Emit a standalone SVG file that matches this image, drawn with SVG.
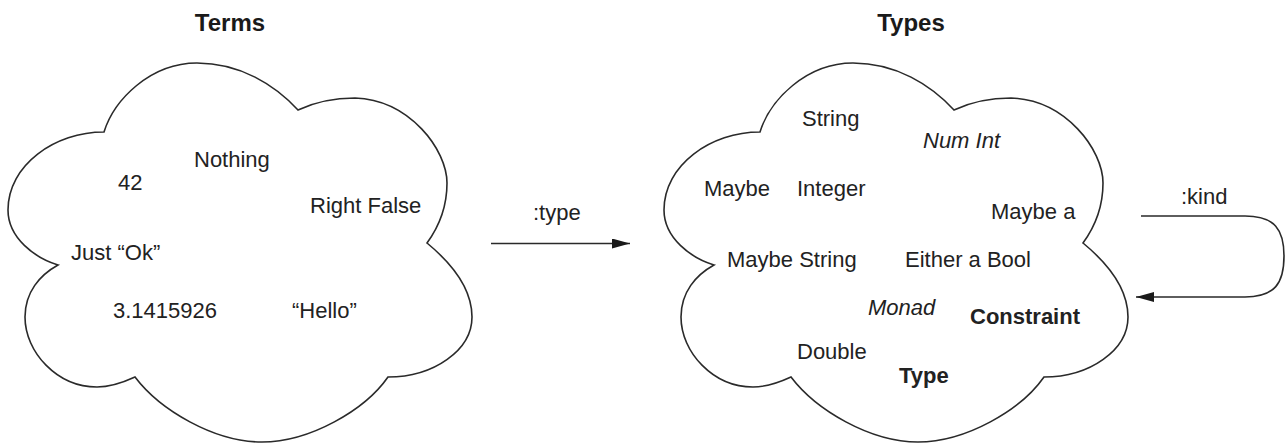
<svg xmlns="http://www.w3.org/2000/svg" width="1286" height="444" viewBox="0 0 1286 444">
  <style>
    .cloud { fill: #ffffff; stroke: #2a2a2a; stroke-width: 1.6; stroke-linejoin: miter; }
    .label { font-family: "Liberation Sans", Arial, sans-serif; font-size: 22px; fill: #222222; }
    .title { font-family: "Liberation Sans", Arial, sans-serif; font-size: 24px; font-weight: bold; fill: #1a1a1a; text-anchor: middle; }
    .it { font-style: italic; }
    .bd { font-weight: bold; }
    .edge { fill: none; stroke: #2a2a2a; stroke-width: 1.6; }
  </style>
  <defs>
    <!-- six-lobed cloud outline, drawn once and placed per node -->
    <path id="cloud-shape" d="M104,132 C114,100 150,63 197,63 C240,63 275,85 298,110 C315,102 335,98 355,98 C410,100 447,150 447,183 C447,210 438,228 427,243 C450,262 472,288 472,317 C472,350 434,377 388,377 C365,410 310,442 262,442 C214,442 160,410 135,377 C122,383 110,387 97,387 C57,387 25,352 25,317 C25,292 40,275 58,265 C35,258 8,238 8,210 C8,165 55,132 104,132 Z"/>
    <marker id="arrow" viewBox="0 0 18 10" refX="18" refY="5" markerWidth="18" markerHeight="10" markerUnits="userSpaceOnUse" orient="auto">
      <path d="M0,0 L18,5 L0,10 Z" fill="#1a1a1a"/>
    </marker>
  </defs>

  <g id="terms">
    <text class="title" x="230" y="31">Terms</text>
    <use href="#cloud-shape" class="cloud"/>
    <text class="label" x="194" y="167">Nothing</text>
    <text class="label" x="118" y="190">42</text>
    <text class="label" x="310" y="213">Right False</text>
    <text class="label" x="71" y="260">Just “Ok”</text>
    <text class="label" x="113" y="318">3.1415926</text>
    <text class="label" x="292" y="318">“Hello”</text>
  </g>

  <g id="types">
    <text class="title" x="911" y="31">Types</text>
    <use href="#cloud-shape" class="cloud" transform="translate(656,0)"/>
    <text class="label" x="802" y="126">String</text>
    <text class="label it" x="923" y="148">Num Int</text>
    <text class="label" x="704" y="196">Maybe</text>
    <text class="label" x="797" y="196">Integer</text>
    <text class="label" x="991" y="219">Maybe a</text>
    <text class="label" x="727" y="267">Maybe String</text>
    <text class="label" x="905" y="267">Either a Bool</text>
    <text class="label it" x="868" y="315">Monad</text>
    <text class="label bd" x="970" y="324">Constraint</text>
    <text class="label" x="797" y="359">Double</text>
    <text class="label bd" x="899" y="383">Type</text>
  </g>

  <g id="connectors">
    <g id="edge-type">
      <path class="edge" d="M491,243.5 L630,243.5" marker-end="url(#arrow)"/>
      <text class="label" x="533" y="220">:type</text>
    </g>
    <g id="edge-kind">
      <path class="edge" d="M1141,216 L1245,216 C1275,216 1284,230 1284,256 C1284,283 1275,297 1245,297 L1136,297" marker-end="url(#arrow)"/>
      <text class="label" x="1181" y="204">:kind</text>
    </g>
  </g>
</svg>
